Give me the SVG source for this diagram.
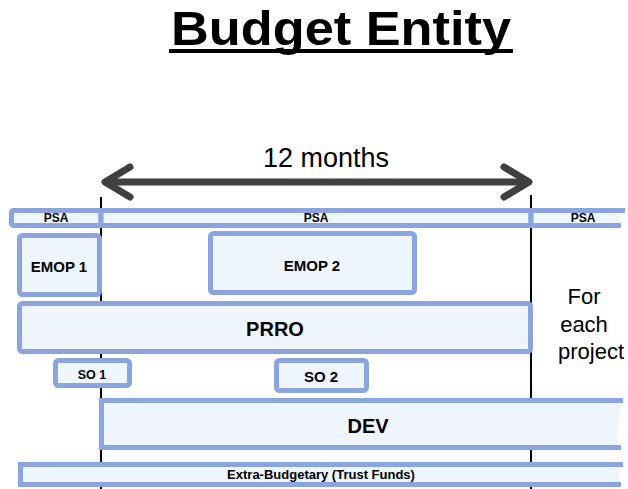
<svg xmlns="http://www.w3.org/2000/svg" width="628" height="489" viewBox="0 0 628 489">
<style>
.box{fill:#EEF5FD;stroke:#8AA4DF;stroke-width:5}
.fill{fill:#EEF5FD;stroke:none}
.edge{fill:none;stroke:#8AA4DF;stroke-width:5}
.lbl{font-family:"Liberation Sans",Arial,sans-serif;font-weight:bold;fill:#000;text-anchor:middle}
.reg{font-family:"Liberation Sans",Arial,sans-serif;fill:#000;text-anchor:middle}
.vline{stroke:#000;stroke-width:2}
.arr{fill:none;stroke:#404040;stroke-width:7;stroke-linecap:round;stroke-linejoin:round}
</style>
<rect width="628" height="489" fill="#fff"/>
<text class="lbl" x="341" y="45" font-size="48" textLength="340" lengthAdjust="spacingAndGlyphs">Budget Entity</text>
<rect x="169" y="49" width="344" height="4" fill="#000"/>

<g id="connectors">
<line class="vline" x1="101" y1="197" x2="101" y2="489"/>
<line class="vline" x1="531" y1="195" x2="531" y2="489"/>
<g id="arrow12">
<line class="arr" x1="108" y1="182" x2="526" y2="182"/>
<polyline class="arr" points="130,167 105,182 130,197"/>
<polyline class="arr" points="504,167 529,182 504,197"/>
</g>
</g>
<text class="reg" x="326" y="167" font-size="27">12 months</text>

<g id="psa1"><rect class="box" x="11.5" y="210.5" width="89.5" height="15" rx="2"/><text class="lbl" x="56" y="222" font-size="12">PSA</text></g>
<g id="psa2"><rect class="box" x="101" y="210.5" width="430" height="15"/><text class="lbl" x="316" y="222" font-size="12">PSA</text></g>
<g id="psa3">
<path class="fill" d="M531,208 L625,208 L620,218 L622,228 L531,228 Z"/>
<path class="edge" d="M625,210.5 L531,210.5 L531,225.5 L621,225.5"/>
<text class="lbl" x="583" y="222" font-size="12">PSA</text></g>

<g id="emop1"><rect class="box" x="19.5" y="235.5" width="80" height="59" rx="3"/><text class="lbl" x="59" y="272" font-size="15">EMOP 1</text></g>
<g id="emop2"><rect class="box" x="210.5" y="233.5" width="204" height="59" rx="3"/><text class="lbl" x="312" y="271" font-size="15">EMOP 2</text></g>
<g id="prro"><rect class="box" x="19.5" y="303.5" width="511" height="48" rx="3"/><text class="lbl" x="275" y="336" font-size="20">PRRO</text></g>
<g id="so1"><rect class="box" x="55.5" y="360.5" width="74" height="25" rx="3"/><text class="lbl" x="92" y="379" font-size="12.5">SO 1</text></g>
<g id="so2"><rect class="box" x="276.5" y="360.5" width="90" height="30" rx="3"/><text class="lbl" x="321" y="382" font-size="15">SO 2</text></g>
<g id="dev">
<path class="fill" d="M101.5,400.5 L624,400.5 Q617,412 620,423 Q614,430 620,447.5 L101.5,447.5 Z"/>
<path class="edge" d="M623,400.5 L101.5,400.5 L101.5,447.5 L621,447.5"/>
<text class="lbl" x="368" y="433" font-size="20">DEV</text></g>
<g id="extra">
<path class="fill" d="M20.5,464.5 L624,464.5 Q617,474 620,484.5 L20.5,484.5 Z"/>
<path class="edge" d="M623,464.5 L20.5,464.5 L20.5,484.5 L621,484.5"/>
<text class="lbl" x="321" y="479" font-size="13">Extra-Budgetary (Trust Funds)</text></g>

<g id="foreach">
<text class="reg" x="584" y="304" font-size="22">For</text>
<text class="reg" x="584" y="332" font-size="22">each</text>
<text class="reg" x="591" y="359" font-size="22">project</text>
</g>
</svg>
